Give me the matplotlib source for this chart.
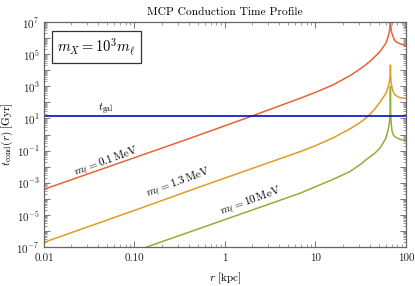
import numpy as np
import matplotlib
matplotlib.use("Agg")
import matplotlib.pyplot as plt
from matplotlib.ticker import FixedLocator, FuncFormatter, LogLocator, NullFormatter

plt.rcParams['font.family'] = 'cmr10'
plt.rcParams['mathtext.fontset'] = 'cm'
plt.rcParams['axes.formatter.use_mathtext'] = True

# values (r in kpc, t in Gyr)
r_01 = [0.01, 0.1, 0.41, 1.0, 1.97, 6.75, 10.0, 15.8, 24.0, 31.6, 40.0, 51.6, 60.1, 63.3,
        65.3, 66.4, 67.0, 67.5, 68.0, 68.5, 69.2, 70.0, 71.3, 73.3, 75.5, 78.9, 86.0, 100.0]
t_01 = [3.9e-4, 3.6e-2, 0.58, 3.5, 13.8, 178, 417, 1.26e3, 4.5e3, 1.26e4, 3.5e4, 1.4e5, 4.8e5, 1.1e6,
        2.1e6, 4.0e6, 1.0e7, 6.0e7, 9.0e6, 4.2e6, 2.6e6, 2.0e6, 1.55e6, 1.0e6, 7.1e5, 5.6e5, 4.5e5, 3.3e5]

r_13 = [0.01, 0.1, 0.68, 3.16, 6.75, 10.0, 15.8, 24.0, 31.6, 38.3, 44.7, 51.6, 60.1, 64.4,
        66.0, 67.0, 67.5, 68.0, 68.8, 70.0, 72.0, 75.5, 86.0, 100.0]
t_13 = [1.95e-7, 1.9e-5, 9.1e-4, 1.9e-2, 8.5e-2, 0.2, 0.63, 2.2, 5.8, 13.8, 35, 100, 355, 1.1e3,
        2.2e3, 4.5e3, 2.1e4, 3.6e3, 1.6e3, 9.5e2, 5.0e2, 2.9e2, 1.95e2, 1.78e2]

r_10 = [0.1, 0.53, 6.75, 10.0, 15.8, 24.0, 31.6, 36.8, 44.7, 51.6, 60.1, 64.4,
        66.0, 67.0, 67.5, 68.0, 68.8, 70.0, 72.0, 75.5, 86.0, 100.0]
t_10 = [5.4e-8, 1.45e-6, 2.2e-4, 5.6e-4, 1.66e-3, 4.9e-3, 1.4e-2, 2.9e-2, 6.3e-2, 0.14, 0.58, 2.6,
        6.5, 22, 955, 18, 5.5, 1.9, 1.05, 0.72, 0.5, 0.41]

t_gal = 13.8

curve_names = [r"$m_\ell = 0.1\,\mathrm{MeV}$", r"$m_\ell = 1.3\,\mathrm{MeV}$", r"$m_\ell = 10\,\mathrm{MeV}$"]
x_ticks = [0.01, 0.1, 1, 10, 100]
x_tick_labels = ["0.01", "0.10", "1", "10", "100"]

fig = plt.figure(figsize=(4.15, 2.86), dpi=100)
ax = fig.add_axes([0.106, 0.1364, 0.872, 0.7866])

ax.plot(r_13, t_13, color='#E19C24', lw=1.1)
ax.plot(r_10, t_10, color='#8FB032', lw=1.1)
ax.plot(r_01, t_01, color='#EB6235', lw=1.1)
ax.axhline(t_gal, color='#0010C0', lw=1.2)

ax.set_xscale('log')
ax.set_yscale('log')
ax.set_xlim(0.01, 100)
ax.set_ylim(1e-7, 1e7)

ax.xaxis.set_major_locator(FixedLocator(x_ticks))
ax.set_xticklabels(x_tick_labels)
ax.xaxis.set_minor_locator(LogLocator(base=10, subs=np.arange(2, 10), numticks=20))
ax.xaxis.set_minor_formatter(NullFormatter())

ax.yaxis.set_major_locator(FixedLocator([10.0**k for k in range(-7, 8)]))
ax.yaxis.set_major_formatter(FuncFormatter(
    lambda v, p: r"$10^{%d}$" % round(np.log10(v)) if round(np.log10(v)) % 2 != 0 else ""))
ax.yaxis.set_minor_locator(LogLocator(base=10, subs=np.arange(2, 10), numticks=30))
ax.yaxis.set_minor_formatter(NullFormatter())

for s in ax.spines.values():
    s.set_color('#666666')
    s.set_linewidth(0.9)
ax.tick_params(which='both', direction='in', top=True, right=True, color='#777777',
               labelsize=8, labelcolor='#222222')
ax.tick_params(axis='x', pad=5)
ax.tick_params(axis='y', pad=3)
ax.tick_params(which='major', length=4, width=0.7)
ax.tick_params(which='minor', length=2, width=0.5)

ax.set_title("MCP Conduction Time Profile", fontsize=8.3, pad=5)
ax.set_xlabel(r"$r\ [\mathrm{kpc}]$", fontsize=8, labelpad=5)
ax.set_ylabel(r"$t_{\mathrm{cond}}(r)\ [\mathrm{Gyr}]$", fontsize=8, labelpad=1)

ax.text(0.0484, 0.019, curve_names[0], fontsize=8, rotation=20, ha='center', va='center')
ax.text(0.303, 9.5e-4, curve_names[1], fontsize=8, rotation=20, ha='center', va='center')
ax.text(1.94, 7.0e-5, curve_names[2], fontsize=8, rotation=20, ha='center', va='center')
ax.text(0.0484, 39, r"$t_{\mathrm{gal}}$", fontsize=8, ha='center', va='center')

ax.text(0.146, 0.889, r"$m_X = 10^3 m_\ell$", transform=ax.transAxes, fontsize=10.5,
        ha='center', va='center',
        bbox=dict(boxstyle='square,pad=0.35', fc='white', ec='#333333', lw=0.9))

fig.savefig("out.png", dpi=100)
